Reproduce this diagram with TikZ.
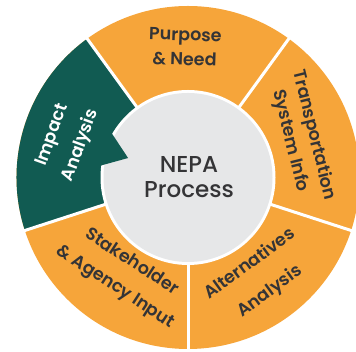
\documentclass[tikz,border=0pt]{standalone}
\usepackage{fontspec}
\usetikzlibrary{calc}
\setmainfont{Poppins}
\newfontfamily\segfont{Poppins SemiBold}
\newfontfamily\midfont{Poppins Medium}
\definecolor{segorange}{RGB}{246,165,58}
\definecolor{seggreen}{RGB}{17,91,82}
\definecolor{coregray}{RGB}{230,231,232}
\definecolor{txtdark}{RGB}{52,52,54}
\tikzset{
  seglabel/.style={font=\segfont\fontsize{17.5}{#1}\selectfont, text=txtdark, align=center, inner sep=0pt},
  seglabelw/.style={font=\segfont\fontsize{17.5}{#1}\selectfont, text=white, align=center, inner sep=0pt},
  divider/.style={white, line width=3pt},
}
\begin{document}
\begin{tikzpicture}[x=1pt,y=1pt]
\useasboundingbox (0,0) rectangle (356,352);
\coordinate (c) at (188,174.5);
% outer disc
\fill[segorange] (c) circle (171.5);
% green sector (126..198)
\fill[seggreen] (c) -- ++(126:171.5) arc (126:198:171.5) -- cycle;
% dividers
\foreach \a in {54,-18,-90,198,126}
  \draw[divider] (c) -- ++(\a:175);
% core
\fill[white] (c) circle (87.5);
\fill[coregray] (c) circle (84.5);
% notch arrow of green segment
\fill[seggreen] ($(c)+(149:91)$) -- ($(c)+(162:63)$) -- ($(c)+(173:91)$) arc (173:149:91) -- cycle;
% labels
\node[font=\midfont\fontsize{23}{25.6}\selectfont, text=txtdark, align=center, inner sep=0pt] (core) at (189,175) {NEPA\\Process};
\node[seglabel=24.5, rotate=-2] (purpose) at (185,305) {Purpose\\\& Need};
\node[seglabel=24, rotate=-76] (transp) at (302,214) {Transportation\\System Info};
\node[seglabel=34, rotate=36] (altern) at (260,74) {Alternatives\\Analysis};
\node[seglabel=30, rotate=-33] (stake) at (123.5,77) {Stakeholder\\\& Agency Input};
\node[seglabelw=30, rotate=70] (impact) at (67,211.5) {Impact\\Analysis};
\end{tikzpicture}
\end{document}
